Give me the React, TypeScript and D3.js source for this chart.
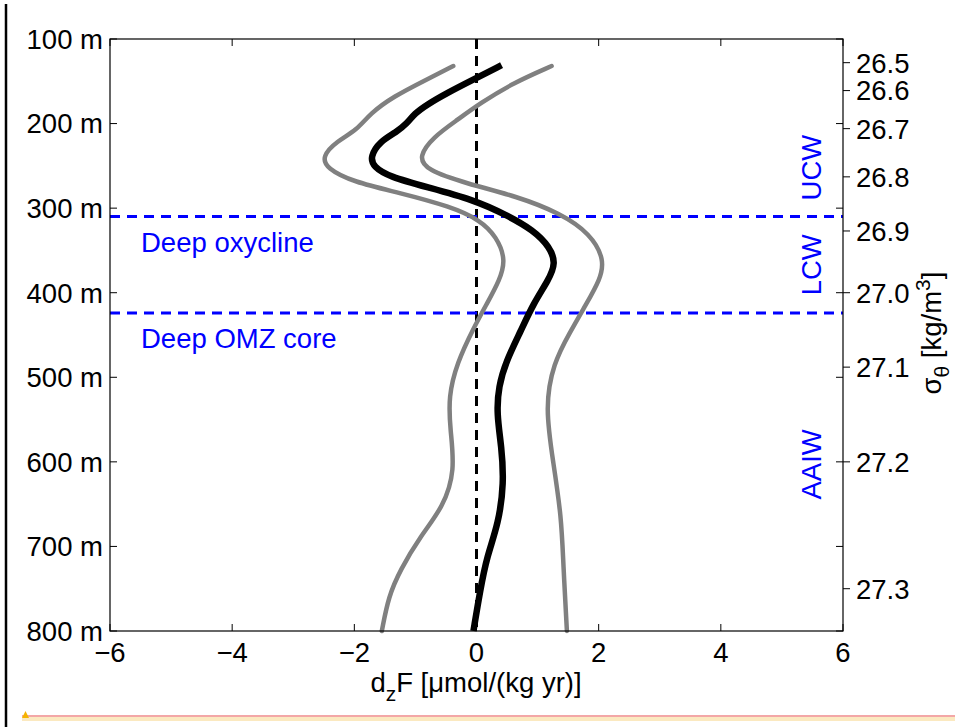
import * as d3 from 'd3';

// mean profile (black) and the two bounds (grey): depth in m, dzF in µmol/(kg yr)
const MEAN_DEPTH = [131, 146, 164, 178, 188, 200, 210, 221, 239, 251, 263, 275, 290, 308, 326, 346, 365, 385, 413, 446, 480, 511, 543, 582, 625, 673, 712, 752, 800];
const MEAN_VALUE = [0.41, 0.0, -0.49, -0.82, -1.01, -1.14, -1.31, -1.58, -1.74, -1.69, -1.42, -0.82, -0.05, 0.49, 0.93, 1.2, 1.3, 1.18, 0.93, 0.72, 0.49, 0.36, 0.33, 0.41, 0.45, 0.36, 0.17, 0.06, -0.05];

const LOW_DEPTH = [132, 148, 168, 188, 208, 221, 239, 253, 269, 282, 298, 314, 334, 361, 385, 413, 442, 483, 523, 562, 610, 653, 688, 728, 759, 800];
const LOW_VALUE = [-0.38, -0.82, -1.36, -1.74, -1.96, -2.29, -2.53, -2.45, -2.02, -1.25, -0.43, 0.06, 0.33, 0.48, 0.38, 0.17, -0.05, -0.32, -0.46, -0.43, -0.35, -0.54, -0.92, -1.25, -1.44, -1.55];

const HIGH_DEPTH = [132, 152, 176, 196, 216, 239, 255, 271, 286, 306, 330, 361, 385, 413, 448, 483, 535, 602, 665, 720, 800];
const HIGH_VALUE = [1.23, 0.6, 0.06, -0.32, -0.71, -0.95, -0.82, -0.16, 0.66, 1.37, 1.86, 2.1, 2.02, 1.8, 1.52, 1.26, 1.12, 1.26, 1.39, 1.42, 1.48];

const X_TICKS = [-6, -4, -2, 0, 2, 4, 6];
const DEPTH_TICKS = [100, 200, 300, 400, 500, 600, 700, 800];

// potential density labels on the right axis and the depth where each sits
const SIGMA_LABELS = ['26.5', '26.6', '26.7', '26.8', '26.9', '27.0', '27.1', '27.2', '27.3'];
const SIGMA_DEPTH = [128, 161, 206, 263, 327, 400, 488, 600, 750];

const BOUNDARIES = [
  { depth: 310, label: 'Deep oxycline' },
  { depth: 424, label: 'Deep OMZ core' },
];

const WATER_MASSES = [
  { name: 'UCW', depth: 252 },
  { name: 'LCW', depth: 367 },
  { name: 'AAIW', depth: 603 },
];

const FONT = '"Liberation Sans", Arial, Helvetica, sans-serif';
const BLUE = '#0000ff';
const FS = 27.5;

function pairs(depth: number[], value: number[]) {
  return depth.map((d, i) => ({ depth: d, value: value[i] }));
}

export default function App() {
  const left = 110, right = 843, top = 39, bottom = 631;

  const x = d3.scaleLinear().domain([-6, 6]).range([left, right]);
  const y = d3.scaleLinear().domain([100, 800]).range([top, bottom]);

  const line = d3.line<{ depth: number; value: number }>()
    .x(d => x(d.value))
    .y(d => y(d.depth))
    .curve(d3.curveBasis);

  const tick = 7;

  return (
    <svg width={955} height={727} style={{ position: 'absolute', left: 0, top: 0, background: '#fff' }} fontFamily={FONT}>
      {/* page edge artefacts */}
      <line x1={6} x2={6} y1={4} y2={727} stroke="#000" strokeWidth={2.5} />
      <rect x={22} y={717} width={933} height={4} fill="#fbe9c0" />
      <line x1={22} x2={955} y1={716} y2={716} stroke="#e85050" strokeWidth={1.2} />
      <path d="M22,718 L25.5,711 L29,718 Z" fill="#f5b400" />

      {/* zero line */}
      <line x1={x(0)} x2={x(0)} y1={top} y2={bottom} stroke="#000" strokeWidth={3} strokeDasharray="10 7" />

      {/* boundaries */}
      {BOUNDARIES.map(b => (
        <g key={b.label}>
          <line x1={left} x2={right} y1={y(b.depth)} y2={y(b.depth)} stroke={BLUE} strokeWidth={3} strokeDasharray="10 7" />
          <text x={141} y={y(b.depth) + 35} fontSize={FS} fill={BLUE}>{b.label}</text>
        </g>
      ))}

      {/* profiles */}
      <path d={line(pairs(LOW_DEPTH, LOW_VALUE)) ?? ''} fill="none" stroke="#808080" strokeWidth={4.5} strokeLinecap="round" />
      <path d={line(pairs(HIGH_DEPTH, HIGH_VALUE)) ?? ''} fill="none" stroke="#808080" strokeWidth={4.5} strokeLinecap="round" />
      <path d={line(pairs(MEAN_DEPTH, MEAN_VALUE)) ?? ''} fill="none" stroke="#000" strokeWidth={6.5} strokeLinecap="butt" />

      {/* water masses */}
      {WATER_MASSES.map(w => (
        <text key={w.name} transform={`translate(${821},${y(w.depth)}) rotate(-90)`} textAnchor="middle"
          fontSize={FS} fill={BLUE}>{w.name}</text>
      ))}

      {/* box */}
      <rect x={left} y={top} width={right - left} height={bottom - top} fill="none" stroke="#000" strokeWidth={1.2} />

      {/* x ticks */}
      {X_TICKS.map(t => (
        <g key={t}>
          <line x1={x(t)} x2={x(t)} y1={bottom} y2={bottom - tick} stroke="#000" strokeWidth={1} />
          <line x1={x(t)} x2={x(t)} y1={top} y2={top + tick} stroke="#000" strokeWidth={1} />
          <text x={x(t)} y={bottom + 31} textAnchor="middle" fontSize={FS} fill="#000">
            {t < 0 ? `\u2212${Math.abs(t)}` : t}
          </text>
        </g>
      ))}

      {/* depth ticks */}
      {DEPTH_TICKS.map(t => (
        <g key={t}>
          <line x1={left} x2={left + tick} y1={y(t)} y2={y(t)} stroke="#000" strokeWidth={1} />
          <line x1={right} x2={right - tick} y1={y(t)} y2={y(t)} stroke="#000" strokeWidth={1} />
          <text x={103} y={y(t)} dy="0.36em" textAnchor="end" fontSize={FS} fill="#000">{t} m</text>
        </g>
      ))}

      {/* density ticks */}
      {SIGMA_LABELS.map((s, i) => (
        <g key={s}>
          <line x1={right} x2={right + tick} y1={y(SIGMA_DEPTH[i])} y2={y(SIGMA_DEPTH[i])} stroke="#000" strokeWidth={1} />
          <text x={856} y={y(SIGMA_DEPTH[i])} dy="0.36em" fontSize={FS} fill="#000">{s}</text>
        </g>
      ))}

      {/* axis titles */}
      <text x={476} y={692} textAnchor="middle" fontSize={FS} fill="#000">
        d<tspan fontSize={21} dy={9}>z</tspan><tspan dy={-9}>{'F [\u03bcmol/(kg yr)]'}</tspan>
      </text>
      <text transform="translate(941,333) rotate(-90)" textAnchor="middle" fontSize={FS} fill="#000">
        {'\u03c3'}<tspan fontSize={21} dy={8}>{'\u03b8'}</tspan><tspan dy={-8}>{' [kg/m'}</tspan><tspan fontSize={21} dy={-11}>3</tspan><tspan dy={11}>]</tspan>
      </text>
    </svg>
  );
}
